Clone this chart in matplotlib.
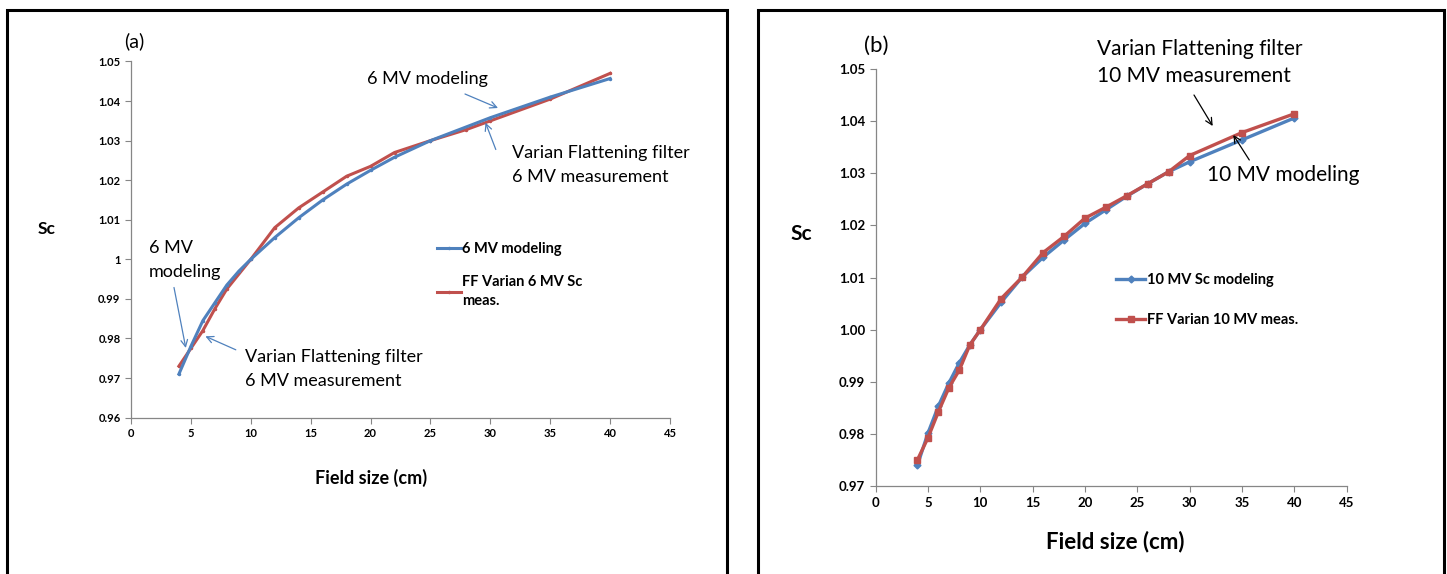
import matplotlib
matplotlib.use('Agg')
import matplotlib.pyplot as plt
from matplotlib.patches import Rectangle, FancyArrowPatch
from matplotlib.ticker import FuncFormatter, MultipleLocator

plt.rcParams['font.family'] = ['Lato', 'DejaVu Sans']

# ---- data -------------------------------------------------------------------
# (a) 6 MV
fs_6_model = [4, 5, 6, 7, 8, 9, 10, 12, 14, 16, 18, 20, 22, 25, 30, 35, 40]
sc_6_model = [0.971, 0.978, 0.9845, 0.989, 0.9935, 0.997, 1.000, 1.0055, 1.0105,
              1.015, 1.019, 1.0225, 1.0258, 1.0300, 1.0358, 1.0410, 1.0457]
fs_6_meas = [4, 5, 6, 7, 8, 10, 12, 14, 16, 18, 20, 22, 25, 28, 30, 35, 40]
sc_6_meas = [0.973, 0.9775, 0.982, 0.9875, 0.9925, 1.000, 1.008, 1.013, 1.017,
             1.021, 1.0235, 1.027, 1.030, 1.0328, 1.035, 1.0405, 1.047]

# (b) 10 MV
fs_10 = [4, 5, 6, 7, 8, 9, 10, 12, 14, 16, 18, 20, 22, 24, 26, 28, 30, 35, 40]
sc_10_model = [0.9741, 0.9802, 0.9854, 0.9898, 0.9937, 0.9971, 1.0000, 1.0053,
               1.0101, 1.0139, 1.0172, 1.0204, 1.0230, 1.0256, 1.0280, 1.0303,
               1.0322, 1.0364, 1.0406]
sc_10_meas = [0.9751, 0.9793, 0.9843, 0.9889, 0.9923, 0.9971, 1.0000, 1.0060,
              1.0101, 1.0148, 1.0179, 1.0214, 1.0235, 1.0257, 1.0280, 1.0303,
              1.0334, 1.0378, 1.0414]

BLUE = '#4F81BD'
RED = '#C0504D'
GRAY = '#868686'
W, H = 1447, 574


def px(x, y):
    # reference pixel (top-left origin) -> figure fraction
    return x / W, 1 - y / H


def style_axes(ax, ylim, yfmt, tick_fs):
    ax.set_xlim(0, 45)
    ax.set_ylim(*ylim)
    ax.xaxis.set_major_locator(MultipleLocator(5))
    ax.yaxis.set_major_locator(MultipleLocator(0.01))
    ax.yaxis.set_major_formatter(FuncFormatter(yfmt))
    for s in ('top', 'right'):
        ax.spines[s].set_visible(False)
    for s in ('left', 'bottom'):
        ax.spines[s].set_color(GRAY)
        ax.spines[s].set_linewidth(0.9)
    ax.tick_params(colors=GRAY, labelcolor='black', length=4, width=0.8,
                   labelsize=tick_fs)
    for lbl in ax.get_xticklabels() + ax.get_yticklabels():
        lbl.set_fontweight('bold')


def arrow(tip, tail, color):
    fig.add_artist(FancyArrowPatch(px(*tail), px(*tip), transform=fig.transFigure,
                                   arrowstyle='->', mutation_scale=12, color=color,
                                   lw=0.9, shrinkA=0, shrinkB=0))


fig = plt.figure(figsize=(W / 100, H / 100), dpi=100)

# panel frames
for x0, x1 in ((6.5, 727), (758, 1444)):
    fig.add_artist(Rectangle((x0 / W, -0.05), (x1 - x0) / W, 1 - 10 / H + 0.05,
                             transform=fig.transFigure, fill=False,
                             edgecolor='black', linewidth=2.2))

# ---- (a) ----------------------------------------------------------------------
l, b = px(131, 417.6)
r, t = px(670, 61.5)
ax1 = fig.add_axes([l, b, r - l, t - b])
ax1.plot(fs_6_model, sc_6_model, '-', color=BLUE, lw=2.2, marker='o', ms=1.5,
         label='6 MV modeling', zorder=3)
ax1.plot(fs_6_meas, sc_6_meas, '-', color=RED, lw=2.2, marker='o', ms=1.5,
         label='FF Varian 6 MV Sc\nmeas.', zorder=2)
style_axes(ax1, (0.96, 1.05), lambda v, p: f'{round(v, 2):g}', 8)

leg1 = ax1.legend(loc='upper left', bbox_to_anchor=px(430, 235),
                  bbox_transform=fig.transFigure, frameon=False,
                  prop={'weight': 'bold', 'size': 10.5}, handlelength=1.6,
                  handletextpad=0.1, labelspacing=1.3, borderpad=0)
for txt in leg1.get_texts():
    txt.set_linespacing(1.45)

ann = dict(fontsize=13, ha='left', va='center', linespacing=1.65)
fig.text(*px(367, 79), '6 MV modeling', fontsize=13, ha='left', va='center')
arrow((498, 108), (465, 94), BLUE)
fig.text(*px(512, 165), 'Varian Flattening filter\n6 MV measurement', **ann)
arrow((485.5, 122.7), (495.8, 149.5), BLUE)
fig.text(*px(149, 260), '6 MV\nmodeling', **ann)
arrow((185.8, 348), (174, 287.5), BLUE)
fig.text(*px(245, 369), 'Varian Flattening filter\n6 MV measurement', **ann)
arrow((205.4, 336.3), (235.8, 349.8), BLUE)

fig.text(*px(124, 41), '(a)', fontsize=14, ha='left', va='center')
fig.text(*px(47, 229), 'Sc', fontsize=12.5, fontweight='bold', ha='center', va='center')
fig.text(*px(371, 478), 'Field size (cm)', fontsize=13, fontweight='bold',
         ha='center', va='center')

# ---- (b) ----------------------------------------------------------------------
l, b = px(875.6, 486.4)
r, t = px(1346.7, 68.9)
ax2 = fig.add_axes([l, b, r - l, t - b])
ax2.plot(fs_10, sc_10_model, '-', color=BLUE, lw=2.4, marker='D', ms=3.5,
         label='10 MV Sc modeling', zorder=2)
ax2.plot(fs_10, sc_10_meas, '-', color=RED, lw=2.4, marker='s', ms=5,
         label='FF Varian 10 MV meas.', zorder=3)
style_axes(ax2, (0.97, 1.05), lambda v, p: f'{v:.2f}', 9.5)

ax2.legend(loc='upper left', bbox_to_anchor=px(1109, 266), bbox_transform=fig.transFigure,
           frameon=False, prop={'weight': 'bold', 'size': 10.5}, handlelength=2.0,
           handletextpad=0.1, labelspacing=1.75, borderpad=0)

fig.text(*px(1097, 62.5), 'Varian Flattening filter\n10 MV measurement', fontsize=15,
         ha='left', va='center', linespacing=1.42)
arrow((1212.7, 126), (1194, 95), 'black')
fig.text(*px(1207, 175), '10 MV modeling', fontsize=15, ha='left', va='center')
arrow((1233.3, 135), (1249.3, 160), 'black')

fig.text(*px(864, 46), '(b)', fontsize=16, ha='left', va='center')
fig.text(*px(801, 234), 'Sc', fontsize=15, fontweight='bold', ha='center', va='center')
fig.text(*px(1115, 542), 'Field size (cm)', fontsize=16, fontweight='bold',
         ha='center', va='center')

fig.savefig('out.png', dpi=100)
